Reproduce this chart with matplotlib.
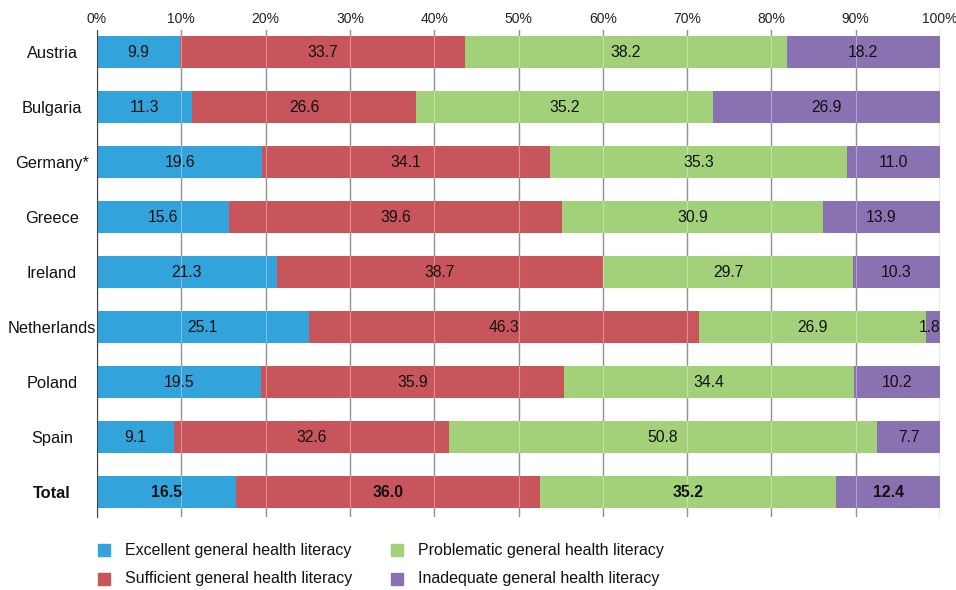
import matplotlib.pyplot as plt
from matplotlib.patches import Rectangle

plt.rcParams['font.family'] = ['Liberation Sans', 'DejaVu Sans']

countries = ["Austria", "Bulgaria", "Germany*", "Greece", "Ireland",
             "Netherlands", "Poland", "Spain", "Total"]
excellent = [9.9, 11.3, 19.6, 15.6, 21.3, 25.1, 19.5, 9.1, 16.5]
sufficient = [33.7, 26.6, 34.1, 39.6, 38.7, 46.3, 35.9, 32.6, 36.0]
problematic = [38.2, 35.2, 35.3, 30.9, 29.7, 26.9, 34.4, 50.8, 35.2]
inadequate = [18.2, 26.9, 11.0, 13.9, 10.3, 1.8, 10.2, 7.7, 12.4]

series = [excellent, sufficient, problematic, inadequate]
names = ["Excellent general health literacy", "Sufficient general health literacy",
         "Problematic general health literacy", "Inadequate general health literacy"]
colors = ["#33a3dc", "#c8555c", "#a3d17a", "#8a72b2"]

W, H = 956, 590
fig = plt.figure(figsize=(W / 100, H / 100), dpi=100)
ax = fig.add_axes([97 / W, 1 - 517 / H, 843 / W, 487 / H])

y = list(range(len(countries)))
left = [0.0] * len(countries)
for vals, col in zip(series, colors):
    ax.barh(y, vals, left=left, height=0.58, color=col, zorder=2)
    for i, v in enumerate(vals):
        w = 'bold' if countries[i] == "Total" else 'normal'
        if v < 3:
            ax.text(100, i, f"{v:.1f}", ha='right', va='center', fontsize=11.3,
                    fontweight=w, color='#111111', zorder=5)
        else:
            ax.text(left[i] + v / 2, i, f"{v:.1f}", ha='center', va='center',
                    fontsize=11.3, fontweight=w, color='#111111', zorder=5)
    left = [l + v for l, v in zip(left, vals)]

# gridlines: dark in gaps, faint on top of bars
for x in range(0, 101, 10):
    ax.axvline(x, color='#555555', lw=0.9, zorder=0)
    ax.axvline(x, color='white', lw=0.8, alpha=0.35, zorder=3)

ax.set_xlim(0, 100)
ax.set_ylim(8.45, -0.4)
ax.xaxis.tick_top()
ax.set_xticks(range(0, 101, 10))
ax.set_xticklabels([f"{x}%" for x in range(0, 101, 10)], fontsize=10, color='#222222')
ax.tick_params(axis='x', length=0, pad=3)
ax.set_yticks(y)
ax.set_yticklabels(countries, fontsize=11.8, color='#111111', ha='center')
ax.get_yticklabels()[-1].set_fontweight('bold')
ax.tick_params(axis='y', length=0, pad=32.4)
for s in ['top', 'bottom', 'right']:
    ax.spines[s].set_visible(False)
ax.spines['left'].set_color('#444444')
ax.spines['left'].set_zorder(4)

# legend, two columns
leg_pos = [(98, 550), (98, 579), (391, 550), (391, 579)]
for (px, py), c, n in zip(leg_pos, colors, names):
    fig.add_artist(Rectangle((px / W, 1 - (py + 6) / H), 12 / W, 12 / H,
                             transform=fig.transFigure, color=c))
    fig.text((px + 27) / W, 1 - py / H, n, fontsize=11.5, va='center',
             ha='left', color='#111111')

fig.savefig("out.png", dpi=100)
